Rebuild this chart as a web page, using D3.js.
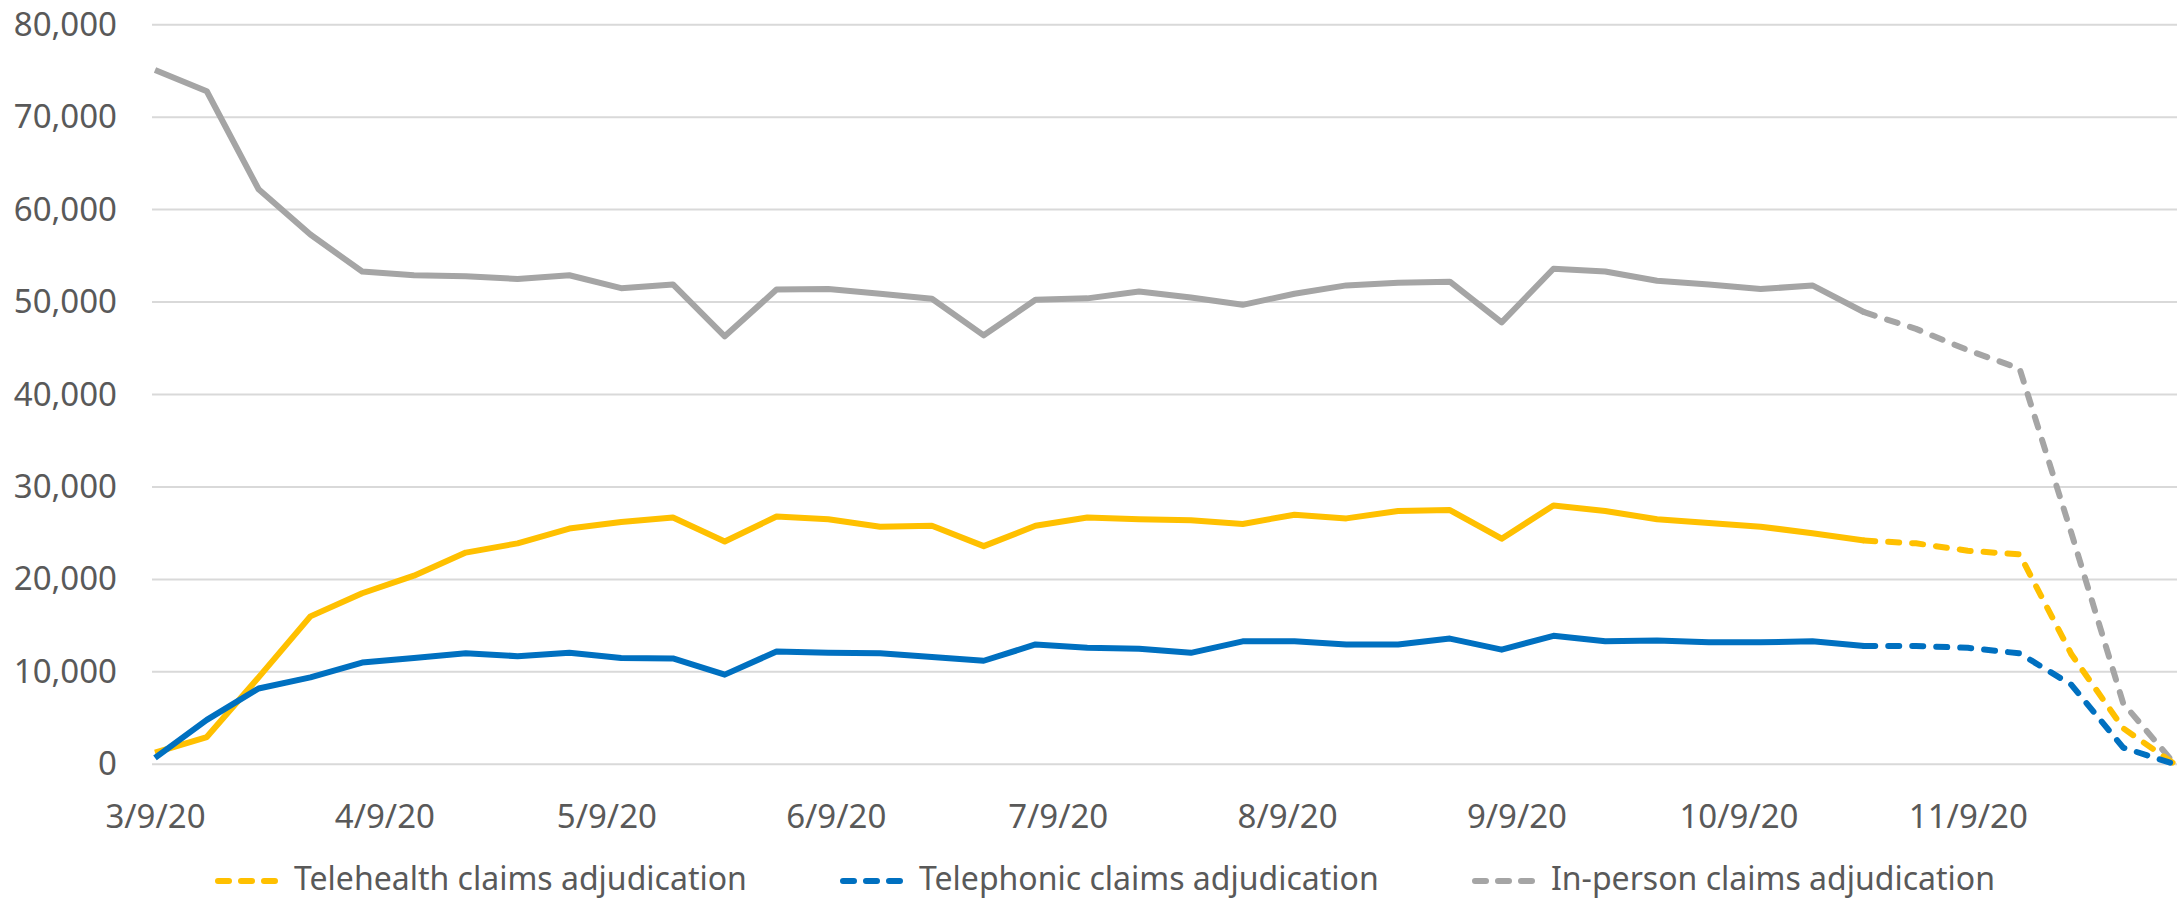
<!DOCTYPE html>
<html>
<head>
<meta charset="utf-8">
<script src="https://cdn.jsdelivr.net/npm/d3@7"></script>
<style>
  body { margin: 0; background: #fff; }
  text { font-family: "Noto Sans", sans-serif; fill: #595959; }
</style>
</head>
<body>
<div id="chart"></div>
<script>
// Data (weekly, 3/9/20 - 12/7/20)
const weeks = [
    "3/9/20", "3/16/20", "3/23/20", "3/30/20", "4/6/20", "4/13/20", "4/20/20", "4/27/20",
    "5/4/20", "5/11/20", "5/18/20", "5/25/20", "6/1/20", "6/8/20", "6/15/20", "6/22/20",
    "6/29/20", "7/6/20", "7/13/20", "7/20/20", "7/27/20", "8/3/20", "8/10/20", "8/17/20",
    "8/24/20", "8/31/20", "9/7/20", "9/14/20", "9/21/20", "9/28/20", "10/5/20", "10/12/20",
    "10/19/20", "10/26/20", "11/2/20", "11/9/20", "11/16/20", "11/23/20", "11/30/20", "12/7/20"
];
const telehealth = [
    1260, 2950, 9400, 16000, 18500, 20400, 22900, 23900, 25500, 26200, 26700, 24100,
    26800, 26500, 25700, 25800, 23600, 25800, 26700, 26500, 26400, 26000, 27000, 26600,
    27400, 27500, 24400, 28000, 27400, 26500, 26100, 25700, 25000, 24200, 23900, 23100,
    22700, 11900, 3900, 0
];
const telephonic = [
    700, 4800, 8200, 9400, 11000, 11500, 12000, 11700, 12060, 11500, 11450, 9700,
    12200, 12060, 12000, 11600, 11200, 12960, 12600, 12500, 12060, 13300, 13300, 12960,
    12960, 13600, 12400, 13900, 13300, 13400, 13200, 13200, 13300, 12800, 12800, 12600,
    12000, 8600, 1800, 0
];
const inPerson = [
    75100, 72800, 62200, 57300, 53300, 52900, 52800, 52500, 52900, 51500, 51900, 46300,
    51350, 51400, 50900, 50360, 46400, 50250, 50400, 51150, 50500, 49700, 50900, 51800,
    52100, 52200, 47800, 53600, 53300, 52300, 51900, 51400, 51800, 48900, 47100, 44800,
    42800, 25000, 6600, 0
];
const seriesNames = ["Telehealth claims adjudication", "Telephonic claims adjudication", "In-person claims adjudication"];
const seriesColors = ["#FFC000", "#0070C0", "#A5A5A5"];
const xTickLabels = ["3/9/20", "4/9/20", "5/9/20", "6/9/20", "7/9/20", "8/9/20", "9/9/20", "10/9/20", "11/9/20"];
const yTicks = [0, 10000, 20000, 30000, 40000, 50000, 60000, 70000, 80000];
const lastActual = "10/26/20"; // solid up to here, dashed after

const parse = d3.timeParse('%m/%d/%y');
const fmt = d3.timeFormat('%-m/%-d/%y');
const chartWidth = 2178;
const chartHeight = 900;
const fontSize = 33;

const dates = weeks.map(parse);
const splitIdx = weeks.indexOf(lastActual);

const xScale = d3.scaleTime()
    .domain([dates[0], dates[dates.length - 1]])
    .range([155, 2175]);

const yScale = d3.scaleLinear()
    .domain([0, 80000])
    .range([764.3, 24.7]);

const svg = d3.select("#chart")
    .append("svg")
    .attr("width", chartWidth)
    .attr("height", chartHeight);

// gridlines
svg.append("g")
    .selectAll("line")
    .data(yTicks)
    .join("line")
    .attr("x1", 152)
    .attr("x2", 2177)
    .attr("y1", d => yScale(d))
    .attr("y2", d => yScale(d))
    .attr("stroke", "#d9d9d9")
    .attr("stroke-width", 2);

// y axis
const yAxis = d3.axisLeft(yScale)
    .tickValues(yTicks)
    .tickFormat(d3.format(","))
    .tickSize(0)
    .tickPadding(35);

const gy = svg.append("g")
    .attr("transform", "translate(152,0)")
    .call(yAxis);
gy.select(".domain").remove();
gy.selectAll("text")
    .style("font-family", "'Noto Sans', sans-serif")
    .attr("font-size", fontSize)
    .attr("fill", "#595959");

// x axis
const xAxis = d3.axisBottom(xScale)
    .tickValues(xTickLabels.map(parse))
    .tickFormat(fmt)
    .tickSize(0)
    .tickPadding(40);

const gx = svg.append("g")
    .attr("transform", "translate(0," + yScale(0) + ")")
    .call(xAxis);
gx.select(".domain").remove();
gx.selectAll("text")
    .style("font-family", "'Noto Sans', sans-serif")
    .attr("font-size", fontSize)
    .attr("fill", "#595959");

// lines
const allSeries = [telehealth, telephonic, inPerson];
const line = d3.line()
    .x(d => xScale(d[0]))
    .y(d => yScale(d[1]));

// draw back to front: in-person, telehealth, telephonic
[2, 0, 1].forEach(k => {
    const pts = dates.map((d, i) => [d, allSeries[k][i]]);
    svg.append('path')
        .datum(pts.slice(0, splitIdx + 1))
        .attr('fill', 'none')
        .attr('stroke', seriesColors[k])
        .attr('stroke-width', 6)
        .attr('stroke-linejoin', 'round')
        .attr('d', line);
    svg.append('path')
        .datum(pts.slice(splitIdx))
        .attr('fill', 'none')
        .attr('stroke', seriesColors[k])
        .attr('stroke-width', 6)
        .attr('stroke-linejoin', 'round')
        .attr('stroke-linecap', 'round')
        .attr('stroke-dasharray', '11,13')
        .attr('d', line);
});

// legend
const legendX = [215, 840, 1472];
const legend = svg.append("g")
    .selectAll("g")
    .data(seriesNames)
    .join("g")
    .attr("transform", (d, i) => "translate(" + legendX[i] + ",881)");

legend.append("line")
    .attr("x1", 3)
    .attr("x2", 60)
    .attr("stroke", (d, i) => seriesColors[i])
    .attr("stroke-width", 6)
    .attr("stroke-linecap", "round")
    .attr("stroke-dasharray", "11,12");

legend.append("text")
    .attr("x", 79)
    .attr("y", 8.5)
    .attr("font-size", 32)
    .text(d => d);
</script>
</body>
</html>
